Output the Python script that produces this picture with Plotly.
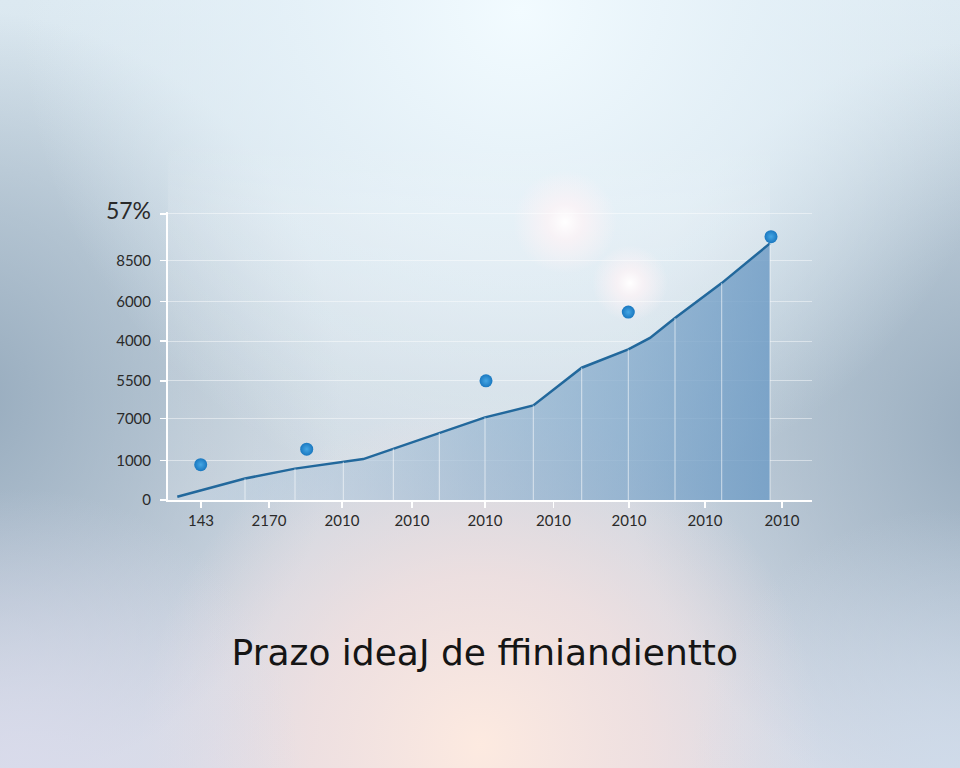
import base64
import numpy as np
import plotly.graph_objects as go

# ---- data (arbitrary units) ----
x_tick_vals = [3.3, 10.1, 17.4, 24.4, 31.7, 38.55, 46.1, 53.7, 61.4]
x_tick_text = ["143", "2170", "2010", "2010", "2010", "2010", "2010", "2010", "2010"]

y_tick_vals = [0, 1, 2.05, 3, 4, 5, 6.03, 7.2]
y_tick_text = ["0", "1000", "7000", "5500", "4000", "6000", "8500",
               "<span style='font-size:23px'>57%</span>"]

line_x = [0.93, 7.7, 12.7, 17.53, 19.53, 31.7, 36.53, 41.37, 46.03, 48.2, 50.7, 55.37, 60.2]
line_y = [0.08, 0.54, 0.79, 0.96, 1.03, 2.08, 2.38, 3.33, 3.79, 4.08, 4.58, 5.46, 6.46]

drop_x = [7.7, 12.7, 17.53, 22.53, 27.13, 31.7, 36.53, 41.37, 46.03, 50.7, 55.37, 60.2]

dot_x = [3.27, 13.87, 31.8, 46.03, 60.3]
dot_y = [0.89, 1.28, 3.0, 4.73, 6.63]

title_text = "Prazo ideaJ de ffiniandientto"

# ---- decorative background (SVG gradients) ----
W, H = 960, 768
svg = f"""<svg xmlns='http://www.w3.org/2000/svg' width='{W}' height='{H}' viewBox='0 0 {W} {H}'>
<defs>
<linearGradient id='base' x1='0' y1='0' x2='0' y2='1'>
 <stop offset='0' stop-color='#dce9f1'/>
 <stop offset='0.5' stop-color='#c8d5df'/>
 <stop offset='1' stop-color='#d8dce7'/>
</linearGradient>
<radialGradient id='top' cx='520' cy='10' r='500' gradientUnits='userSpaceOnUse'>
 <stop offset='0' stop-color='#f2fbff' stop-opacity='1'/>
 <stop offset='0.5' stop-color='#e6f2f9' stop-opacity='0.75'/>
 <stop offset='1' stop-color='#e6f2f9' stop-opacity='0'/>
</radialGradient>
<radialGradient id='peach' cx='480' cy='745' r='340' gradientUnits='userSpaceOnUse'>
 <stop offset='0' stop-color='#fdeae0' stop-opacity='1'/>
 <stop offset='0.5' stop-color='#f5e1df' stop-opacity='0.75'/>
 <stop offset='1' stop-color='#f2dfe0' stop-opacity='0'/>
</radialGradient>
<radialGradient id='lav' cx='20' cy='768' r='280' gradientUnits='userSpaceOnUse'>
 <stop offset='0' stop-color='#d9dbeb' stop-opacity='0.95'/>
 <stop offset='1' stop-color='#d9dbeb' stop-opacity='0'/>
</radialGradient>
<radialGradient id='lav2' cx='950' cy='768' r='260' gradientUnits='userSpaceOnUse'>
 <stop offset='0' stop-color='#cfdbea' stop-opacity='0.9'/>
 <stop offset='1' stop-color='#cfdbea' stop-opacity='0'/>
</radialGradient>
<radialGradient id='side' cx='0.5' cy='0.5' r='0.5'>
 <stop offset='0' stop-color='#93a8bb' stop-opacity='0.95'/>
 <stop offset='0.5' stop-color='#9aaec0' stop-opacity='0.55'/>
 <stop offset='1' stop-color='#9aaec0' stop-opacity='0'/>
</radialGradient>
<radialGradient id='glow' cx='0.5' cy='0.5' r='0.5'>
 <stop offset='0' stop-color='#ffffff' stop-opacity='1'/>
 <stop offset='0.35' stop-color='#fdf3f6' stop-opacity='0.75'/>
 <stop offset='1' stop-color='#fdf3f6' stop-opacity='0'/>
</radialGradient>
<linearGradient id='panel' x1='0' y1='0' x2='0' y2='1'>
 <stop offset='0' stop-color='#ffffff' stop-opacity='0'/>
 <stop offset='0.2' stop-color='#ffffff' stop-opacity='0.12'/>
 <stop offset='1' stop-color='#ffffff' stop-opacity='0.16'/>
</linearGradient>
</defs>
<rect width='{W}' height='{H}' fill='url(#base)'/>
<ellipse cx='-40' cy='400' rx='380' ry='390' fill='url(#side)'/>
<ellipse cx='1000' cy='430' rx='380' ry='390' fill='url(#side)'/>
<rect width='{W}' height='{H}' fill='url(#top)'/>
<rect width='{W}' height='{H}' fill='url(#peach)'/>
<rect width='{W}' height='{H}' fill='url(#lav)'/>
<rect width='{W}' height='{H}' fill='url(#lav2)'/>
<rect x='168' y='140' width='602' height='360' fill='url(#panel)'/>
<circle cx='565' cy='222' r='52' fill='url(#glow)'/>
<circle cx='630' cy='283' r='38' fill='url(#glow)'/>
</svg>"""
bg_src = "data:image/svg+xml;base64," + base64.b64encode(svg.encode()).decode()

# plot area geometry (pixels)
L, R, T, B = 168, 148, 212, 268
pw, ph = W - L - R, H - T - B

fig = go.Figure()

# area + line
fig.add_trace(go.Scatter(
    x=line_x, y=line_y, mode="lines",
    line=dict(color="#22689c", width=2.5),
    fill="tozeroy",
    fillgradient=dict(type="horizontal",
                      colorscale=[[0, "rgba(190,208,225,0.35)"],
                                  [0.5, "rgba(140,175,205,0.6)"],
                                  [1, "rgba(105,152,195,0.8)"]]),
    hoverinfo="skip", showlegend=False))

# white drop lines under the curve
dy = np.interp(drop_x, line_x, line_y)
vx, vy = [], []
for xv, yv in zip(drop_x, dy):
    vx += [xv, xv, None]
    vy += [0, yv, None]
fig.add_trace(go.Scatter(x=vx, y=vy, mode="lines",
                         line=dict(color="rgba(255,255,255,0.6)", width=1),
                         hoverinfo="skip", showlegend=False))

# dots
fig.add_trace(go.Scatter(
    x=dot_x, y=dot_y, mode="markers",
    marker=dict(size=13, color="#1a78c0",
                gradient=dict(type="radial", color="#45a6e4"),
                line=dict(width=0)),
    hoverinfo="skip", showlegend=False))

tickfont = dict(family="Lato, sans-serif", size=15, color="#2a2a2a")

fig.update_layout(
    width=W, height=H,
    margin=dict(l=L, r=R, t=T, b=B, pad=0),
    paper_bgcolor="#d0dbe4",
    plot_bgcolor="rgba(0,0,0,0)",
    showlegend=False,
    title=dict(text=title_text, x=0.505, xref="container", xanchor="center",
               y=1 - 652 / H, yref="container", yanchor="middle",
               font=dict(family="DejaVu Sans, sans-serif", size=36, color="#151515")),
    xaxis=dict(range=[0, 64.4], tickvals=x_tick_vals, ticktext=x_tick_text,
               showgrid=False, zeroline=False, showline=True,
               linecolor="white", linewidth=2, ticks="outside",
               tickcolor="white", ticklen=6, tickwidth=1.5,
               tickfont=tickfont, fixedrange=True),
    yaxis=dict(range=[0, 7.25], tickvals=y_tick_vals, ticktext=y_tick_text,
               showgrid=True, gridcolor="rgba(255,255,255,0.45)", gridwidth=1,
               zeroline=False, showline=True,
               linecolor="white", linewidth=2, ticks="outside",
               tickcolor="white", ticklen=6, tickwidth=1.5,
               ticklabelstandoff=6,
               tickfont=tickfont, fixedrange=True),
    images=[dict(source=bg_src, xref="paper", yref="paper",
                 x=-L / pw, y=1 + T / ph, sizex=W / pw, sizey=H / ph,
                 xanchor="left", yanchor="top", sizing="stretch", layer="below")],
)

fig.write_html("out.html",
               config={"displayModeBar": False, "staticPlot": True},
               post_script="document.body.style.margin='0';document.body.style.padding='0';")
